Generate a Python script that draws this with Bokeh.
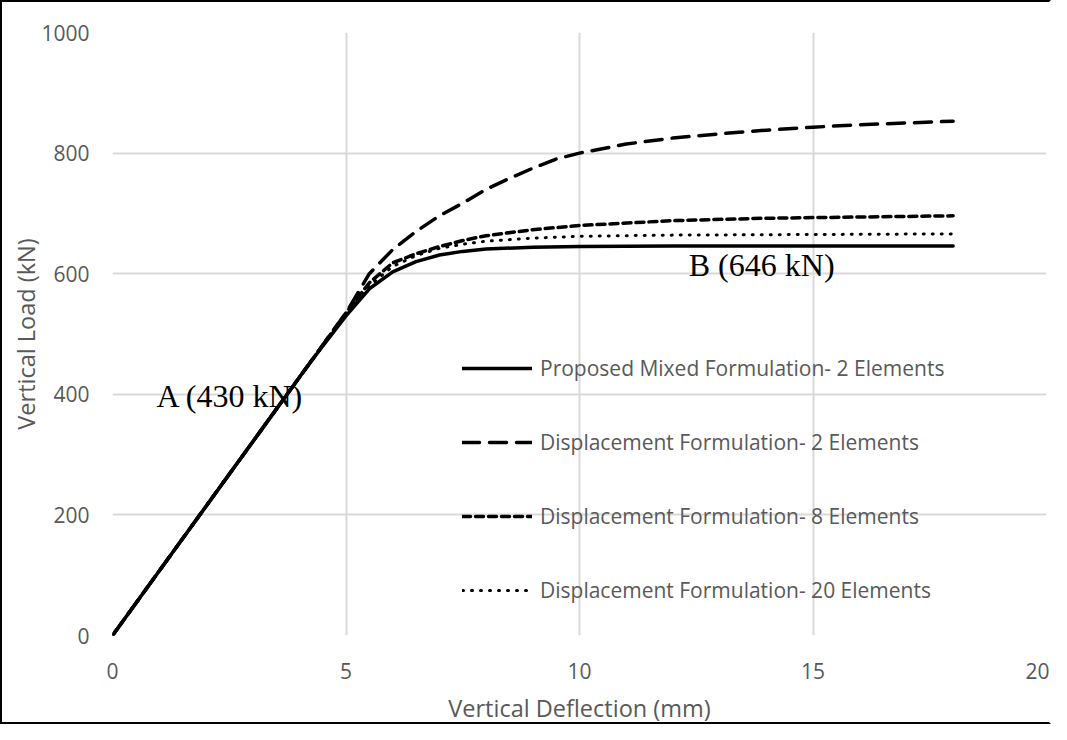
from bokeh.plotting import figure
from bokeh.models import Range1d, Legend, LegendItem, FixedTicker, Label
from bokeh.core.properties import value
from bokeh.embed import file_html
from bokeh.resources import INLINE

# ---- data ----
mixed_x = [0, 1, 2, 3, 4, 4.5, 5, 5.5, 6, 6.5, 7, 7.5, 8, 9, 10, 12, 15, 18]
mixed_y = [0, 107, 214, 321, 428, 480, 530, 575, 603, 620, 631, 637, 641, 644, 645, 646, 646, 646]

disp2_x = [0, 1, 2, 3, 4, 5, 5.5, 6, 6.5, 7, 7.5, 8, 8.5, 9, 9.5, 10, 11, 12, 13, 14, 15, 16, 17, 18]
disp2_y = [0, 107, 214, 321, 428, 535, 600, 640, 670, 696, 717, 740, 758, 775, 790, 800, 815, 825, 832, 838, 843, 847, 850, 853]

disp8_x = [0, 1, 2, 3, 4, 5, 5.5, 6, 6.5, 7, 7.5, 8, 9, 10, 12, 14, 16, 18]
disp8_y = [0, 107, 214, 321, 428, 535, 585, 618, 633, 645, 655, 663, 673, 680, 688, 692, 694, 696]

disp20_x = [0, 1, 2, 3, 4, 5, 5.5, 6, 6.5, 7, 7.5, 8, 9, 10, 12, 15, 18]
disp20_y = [0, 107, 214, 321, 428, 533, 580, 612, 630, 642, 649, 654, 659, 662, 664, 665, 666]

x_ticks = [0, 5, 10, 15, 20]
y_ticks = [0, 200, 400, 600, 800, 1000]

series_names = [
    "Proposed Mixed Formulation- 2 Elements",
    "Displacement Formulation- 2 Elements",
    "Displacement Formulation- 8 Elements",
    "Displacement Formulation- 20 Elements",
]

annot_text = ["A (430 kN)", "B (646 kN)"]
annot_x = [0.94, 12.34]
annot_y = [398, 614]

FONT = "Open Sans"
GREY = "#595959"

p = figure(width=1051, height=724, output_backend="svg", toolbar_location=None,
           x_range=Range1d(0, 20), y_range=Range1d(0, 1000),
           min_border_left=110, min_border_top=30, min_border_right=7, min_border_bottom=89)
p.styles = {"border-left": "2px solid black", "border-top": "2px solid black",
            "border-bottom": "2px solid black", "border-right": "2px solid white",
            "box-sizing": "border-box"}

p.outline_line_color = None
p.background_fill_color = "white"
p.border_fill_color = "white"

for ax in (p.xaxis[0], p.yaxis[0]):
    ax.axis_line_color = None
    ax.major_tick_line_color = None
    ax.minor_tick_line_color = None
    ax.major_label_text_font = FONT
    ax.major_label_text_font_size = "21px"
    ax.major_label_text_color = GREY
    ax.axis_label_text_font = FONT
    ax.axis_label_text_font_size = "23.5px"
    ax.axis_label_text_color = GREY
    ax.axis_label_text_font_style = "normal"

p.xaxis.ticker = FixedTicker(ticks=x_ticks)
p.yaxis.ticker = FixedTicker(ticks=y_ticks)
p.xaxis.axis_label = "Vertical Deflection (mm)"
p.yaxis.axis_label = "Vertical Load (kN)"
p.xaxis.major_label_standoff = 21
p.yaxis.major_label_standoff = 17
p.xaxis.axis_label_standoff = 10
p.yaxis.axis_label_standoff = -4

p.xgrid.ticker = FixedTicker(ticks=x_ticks)
p.ygrid.ticker = FixedTicker(ticks=y_ticks)
for g in (p.xgrid[0], p.ygrid[0]):
    g.grid_line_color = "#d9d9d9"
    g.grid_line_width = 2

r1 = p.line(mixed_x, mixed_y, line_color="black", line_width=3.5, line_cap="round")
r2 = p.line(disp2_x, disp2_y, line_color="black", line_width=3.5, line_dash="17 10", line_cap="round")
r3 = p.line(disp8_x, disp8_y, line_color="black", line_width=3.5, line_dash="8 5", line_cap="round")
r4 = p.line(disp20_x, disp20_y, line_color="black", line_width=3, line_dash="1 8", line_cap="round")

for t, x, y in zip(annot_text, annot_x, annot_y):
    p.add_layout(Label(x=x, y=y, text=t, text_font="Liberation Serif", text_font_size="32px",
                       text_color="black", text_baseline="middle", text_align="left"))

legend = Legend(items=[LegendItem(label=n, renderers=[r]) for n, r in zip(series_names, [r1, r2, r3, r4])],
                location=(350, 31), orientation="vertical",
                glyph_width=70, glyph_height=20, label_height=20, label_standoff=8,
                spacing=46, padding=0, margin=0,
                border_line_color=None, background_fill_alpha=0,
                label_text_font=FONT, label_text_font_size="21px", label_text_color=GREY)
p.add_layout(legend)

open("out.html", "w").write(file_html(p, INLINE))
